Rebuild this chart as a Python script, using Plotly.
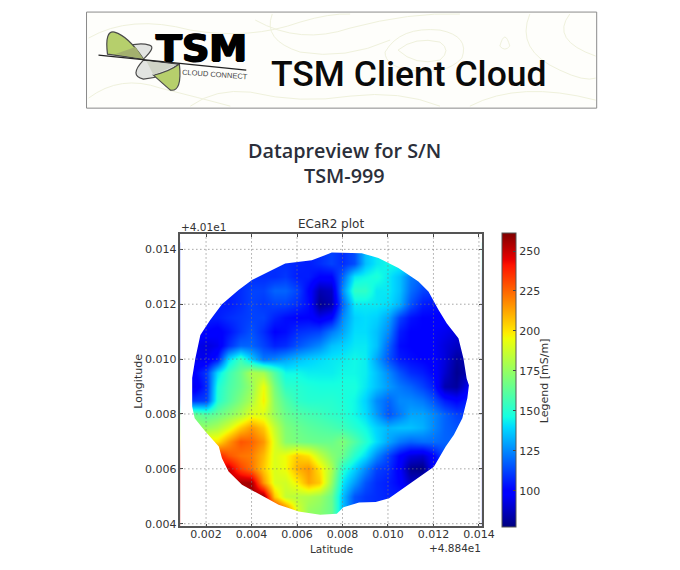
import plotly.graph_objects as go

# the browser window is 680x570 and the page body keeps its 8px margin
W, H = 664, 554
OFF = 8

# grid of the map, offsets from +48.84 / +40.1
lons = [0.0010, 0.0015, 0.0020, 0.0025, 0.0030, 0.0035, 0.0040, 0.0045, 0.0050, 0.0055, 0.0060, 0.0065, 0.0070, 0.0075,
        0.0080, 0.0085, 0.0090, 0.0095, 0.0100, 0.0105, 0.0110, 0.0115, 0.0120, 0.0125, 0.0130, 0.0135, 0.0140]
lats = [0.0040, 0.0045, 0.0050, 0.0055, 0.0060, 0.0065, 0.0070, 0.0075, 0.0080, 0.0085, 0.0090,
        0.0095, 0.0100, 0.0105, 0.0110, 0.0115, 0.0120, 0.0125, 0.0130, 0.0135, 0.0140]

# ECa readings in mS/m, south to north
ecar = [
    [245, 245, 245, 245, 245, 245, 245, 245, 245, 225, 190, 175, 172, 165, 135, 115, 110, 108, 106, 105, 105, 105, 105, 105, 105, 105, 105],
    [245, 245, 245, 245, 245, 245, 245, 245, 245, 225, 190, 175, 172, 165, 135, 115, 110, 108, 106, 105, 105, 105, 105, 105, 105, 105, 105],
    [250, 250, 250, 250, 250, 250, 258, 258, 205, 185, 182, 180, 176, 165, 135, 115, 110, 108, 106, 105, 105, 105, 105, 105, 105, 105, 105],
    [245, 245, 245, 245, 250, 255, 255, 215, 190, 188, 198, 212, 205, 175, 142, 128, 115, 108, 105, 100, 88, 90, 100, 100, 100, 100, 100],
    [245, 245, 245, 245, 250, 232, 222, 205, 190, 195, 210, 215, 200, 180, 150, 138, 125, 112, 108, 98, 80, 78, 100, 100, 100, 100, 100],
    [240, 240, 240, 240, 228, 222, 220, 208, 190, 195, 205, 200, 185, 172, 165, 150, 140, 125, 112, 100, 92, 90, 100, 115, 115, 115, 115],
    [200, 200, 200, 200, 215, 228, 225, 215, 190, 172, 168, 166, 165, 165, 170, 160, 150, 140, 130, 122, 118, 120, 120, 118, 118, 118, 118],
    [175, 175, 175, 180, 190, 205, 215, 205, 185, 170, 165, 162, 160, 158, 155, 150, 145, 138, 133, 135, 135, 132, 125, 118, 115, 115, 115],
    [165, 165, 160, 165, 172, 180, 192, 190, 175, 165, 160, 157, 155, 152, 150, 145, 140, 128, 115, 122, 130, 130, 125, 118, 112, 110, 110],
    [110, 110, 112, 150, 160, 170, 180, 198, 172, 160, 152, 150, 150, 150, 148, 145, 138, 125, 118, 125, 125, 122, 115, 105, 100, 105, 105],
    [95, 95, 108, 148, 158, 165, 175, 195, 168, 152, 150, 148, 147, 147, 147, 147, 142, 135, 128, 122, 118, 112, 105, 85, 82, 95, 95],
    [100, 100, 110, 140, 155, 165, 180, 178, 160, 145, 145, 143, 143, 143, 145, 145, 143, 135, 125, 115, 108, 105, 100, 90, 80, 85, 85],
    [95, 95, 95, 105, 140, 155, 138, 122, 125, 130, 135, 138, 140, 142, 143, 145, 143, 130, 115, 105, 102, 100, 98, 92, 82, 85, 85],
    [95, 95, 92, 95, 108, 118, 118, 112, 106, 108, 115, 120, 125, 135, 138, 142, 142, 135, 118, 102, 100, 98, 97, 92, 88, 88, 88],
    [100, 100, 100, 98, 103, 110, 115, 108, 100, 102, 108, 110, 112, 122, 130, 140, 140, 135, 125, 105, 100, 100, 97, 95, 92, 92, 92],
    [105, 105, 105, 105, 108, 110, 112, 112, 106, 102, 100, 100, 95, 100, 125, 138, 140, 138, 130, 112, 103, 100, 100, 98, 98, 98, 98],
    [105, 105, 105, 105, 105, 108, 112, 110, 112, 112, 108, 102, 80, 85, 118, 142, 142, 142, 140, 132, 115, 105, 103, 103, 103, 103, 103],
    [105, 105, 105, 105, 105, 108, 112, 112, 118, 118, 112, 100, 85, 88, 125, 152, 152, 142, 142, 135, 120, 112, 110, 110, 110, 110, 110],
    [108, 108, 108, 108, 108, 108, 108, 108, 108, 110, 105, 105, 100, 100, 118, 142, 145, 148, 142, 135, 122, 118, 115, 115, 115, 115, 115],
    [108, 108, 108, 108, 108, 108, 108, 108, 108, 108, 106, 105, 108, 112, 108, 114, 135, 142, 145, 145, 145, 145, 145, 145, 145, 145, 145],
    [108, 108, 108, 108, 108, 108, 108, 108, 108, 108, 106, 105, 108, 112, 108, 114, 135, 142, 145, 145, 145, 145, 145, 145, 145, 145, 145],
]

# edge of the surveyed field, counter-clockwise from the top
edge_lon = [0.00753, 0.00665, 0.00548, 0.00475, 0.00402, 0.00343, 0.00270, 0.00219, 0.00175, 0.00153, 0.00139, 0.00139,
            0.00150, 0.00197, 0.00256, 0.00270, 0.00299, 0.00358, 0.00439, 0.00519, 0.00607, 0.00702, 0.00775, 0.00804,
            0.00873, 0.00946, 0.01005, 0.01078, 0.01151, 0.01202, 0.01254, 0.01290, 0.01327, 0.01349, 0.01356, 0.01346,
            0.01332, 0.01310, 0.01259, 0.01222, 0.01178, 0.01134, 0.01046, 0.00958, 0.00885]
edge_lat = [0.01388, 0.01360, 0.01348, 0.01318, 0.01288, 0.01252, 0.01200, 0.01143, 0.01088, 0.01003, 0.00931, 0.00827,
            0.00784, 0.00736, 0.00681, 0.00639, 0.00590, 0.00542, 0.00505, 0.00469, 0.00445, 0.00433, 0.00436, 0.00460,
            0.00477, 0.00479, 0.00493, 0.00536, 0.00578, 0.00608, 0.00681, 0.00724, 0.00784, 0.00857, 0.00905, 0.00929,
            0.01002, 0.01076, 0.01130, 0.01180, 0.01246, 0.01283, 0.01332, 0.01368, 0.01386]

x_ticks = [0.002, 0.004, 0.006, 0.008, 0.010, 0.012, 0.014]
y_ticks = [0.004, 0.006, 0.008, 0.010, 0.012, 0.014]
cbar_ticks = [100, 125, 150, 175, 200, 225, 250]

x_range = [0.00087, 0.01413]
y_range = [0.0039, 0.01455]

jet = [[0, "#00007f"], [0.11, "#0000ff"], [0.125, "#0000ff"], [0.34, "#00dbff"], [0.375, "#14ffe2"],
       [0.64, "#eeff08"], [0.66, "#ffec00"], [0.89, "#ff1300"], [0.91, "#e80000"], [1, "#7f0000"]]

TXT = "#333333"


# window pixels to paper fractions, factors found by comparing renders
def fx(x):
    return ((x + 0.5) / 0.982 - OFF) / W


def fy(y):
    return 1 - (y / 0.992 - OFF) / H


def path(*pts):
    # pts are svg commands in window pixels, e.g. ("M", 10, 20) or ("Q", 1, 2, 3, 4)
    out = ""
    for p in pts:
        out += p[0]
        coords = p[1:]
        bits = []
        for i in range(0, len(coords), 2):
            bits.append("%.5f,%.5f" % (fx(coords[i]), fy(coords[i + 1])))
        out += " ".join(bits) + " "
    return out.strip()


fig = go.Figure()
fig.add_trace(go.Heatmap(
    x=lons, y=lats, z=ecar,
    zmin=77, zmax=261, zsmooth="best",
    colorscale=jet,
    hoverinfo="skip",
    colorbar=dict(
        x=fx(502), xanchor="left", xpad=0, ypad=0,
        y=fy(527), yanchor="bottom",
        len=fy(233) - fy(527), lenmode="fraction",
        thickness=14, thicknessmode="pixels",
        tickmode="array", tickvals=cbar_ticks,
        ticks="inside", ticklen=3, tickcolor="#444",
        tickfont=dict(family="DejaVu Sans", size=11, color=TXT),
        outlinecolor="#555", outlinewidth=1,
    ),
))

# white out everything outside the field, outer box wound against the edge and past the axes
box_x = [0.0, 0.015]
box_y = [0.003, 0.015]
mask_x = edge_lon + [edge_lon[0], box_x[0], box_x[1], box_x[1], box_x[0], box_x[0], edge_lon[0]]
mask_y = edge_lat + [edge_lat[0], box_y[1], box_y[1], box_y[0], box_y[0], box_y[1], edge_lat[0]]
fig.add_trace(go.Scatter(x=mask_x, y=mask_y, mode="lines", fill="toself", fillcolor="white",
                         line=dict(width=0), hoverinfo="skip", showlegend=False))

shapes = []

# banner
shapes.append(dict(type="rect", xref="paper", yref="paper", x0=fx(86), x1=fx(597), y0=fy(108), y1=fy(12),
                   fillcolor="#fefefb", line=dict(color="#8a8a8a", width=1), layer="below"))
contour = "#eff1dc"
for c in [
    path(("M", 88, 38), ("Q", 130, 14, 190, 30), ("Q", 250, 40, 300, 22), ("Q", 330, 13, 350, 14)),
    path(("M", 255, 20), ("Q", 300, 45, 350, 28), ("Q", 410, 12, 460, 14)),
    path(("M", 272, 14), ("Q", 262, 40, 300, 52), ("Q", 345, 60, 390, 40)),
    path(("M", 385, 52), ("Q", 400, 26, 440, 30), ("Q", 470, 36, 462, 58), ("Q", 445, 76, 410, 70), ("Q", 385, 66, 385, 52)),
    path(("M", 398, 50), ("Q", 415, 36, 440, 42), ("Q", 452, 50, 440, 60), ("Q", 415, 66, 398, 50)),
    path(("M", 500, 46), ("Q", 505, 28, 510, 46), ("Q", 505, 52, 500, 46)),
    path(("M", 530, 14), ("Q", 515, 50, 560, 70), ("Q", 585, 82, 596, 78)),
    path(("M", 570, 14), ("Q", 550, 40, 596, 56)),
    path(("M", 88, 98), ("Q", 120, 74, 160, 88), ("Q", 200, 98, 230, 106)),
    path(("M", 190, 106), ("Q", 215, 88, 250, 92), ("Q", 300, 104, 350, 96), ("Q", 400, 90, 440, 106)),
    path(("M", 470, 106), ("Q", 520, 80, 596, 100)),
]:
    shapes.append(dict(type="path", xref="paper", yref="paper", path=c, line=dict(color=contour, width=1), layer="below"))

# logo
green = "#b6cf6c"
grey = "#e2e4e1"
overlap = "#a3b06e"
overlap2 = "#cfd3c6"
edge = dict(color="#4a4a4a", width=1.2)
no_edge = dict(width=0)
for d, f, ln in [
    (path(("M", 143, 59), ("Q", 156, 47, 149, 45), ("Q", 138, 42, 125, 47), ("Q", 136, 50, 143, 59), ("Z",)), grey, edge),
    (path(("M", 107, 54), ("Q", 104, 30, 114, 32), ("Q", 128, 36, 143, 59), ("Z",)), green, edge),
    (path(("M", 115, 54), ("L", 135, 47), ("L", 143, 59), ("Z",)), overlap, no_edge),
    (path(("M", 143, 60), ("Q", 128, 76, 143, 79), ("Q", 163, 78, 178, 64), ("Z",)), grey, edge),
    (path(("M", 153, 75), ("Q", 163, 84, 170, 90), ("Q", 182, 92, 179, 64), ("Q", 168, 72, 153, 75), ("Z",)), green, edge),
    (path(("M", 146, 61), ("L", 153, 75), ("L", 176, 65), ("Z",)), overlap2, no_edge),
]:
    shapes.append(dict(type="path", xref="paper", yref="paper", path=d, fillcolor=f, line=ln, layer="below"))
shapes.append(dict(type="line", xref="paper", yref="paper", x0=fx(98), y0=fy(55), x1=fx(246), y1=fy(70),
                   line=dict(color="#222", width=1.3)))

# dotted grid sits above the map
for v in x_ticks:
    shapes.append(dict(type="line", xref="x", yref="paper", x0=v, x1=v, y0=fy(526), y1=fy(234),
                       line=dict(color="#777", width=1, dash="1px,3px")))
for v in y_ticks:
    shapes.append(dict(type="line", xref="paper", yref="y", x0=fx(180), x1=fx(482), y0=v, y1=v,
                       line=dict(color="#777", width=1, dash="1px,3px")))


def note(text, x, y, size, family="DejaVu Sans", color=TXT, anchor="center", angle=0, weight=None, shadow=None):
    fig.add_annotation(text=text, x=fx(x), y=fy(y), xref="paper", yref="paper", showarrow=False,
                       xanchor=anchor, yanchor="middle", textangle=angle, borderpad=0,
                       font=dict(family=family, size=size, color=color, weight=weight, shadow=shadow))


note("TSM", 201, 48, 38, color="#000000", weight=700, shadow="1px 0 0 #000, -1px 0 0 #000, 0 1px 0 #000")
note("CLOUD CONNECT", 215, 74, 7.5, family="Liberation Sans", color="#444", angle=4)
note("TSM Client Cloud", 409, 74, 35.5, family="Roboto", color="#0a0a0a", weight=500)
note("Datapreview for S/N", 344, 150, 19.8, family="Open Sans", color="#2b2f3a", weight=600)
note("TSM-999", 344, 175, 19.8, family="Open Sans", color="#2b2f3a", weight=600)

note("ECaR2 plot", 331, 224, 12)
note("+4.01e1", 180, 227, 10.5, anchor="left")
note("+4.884e1", 482, 548, 10.5, anchor="right")
note("Latitude", 331, 549, 10.5)
note("Longitude", 138, 381, 11, angle=-90)
note("Legend [mS/m]", 545, 380, 11, angle=-90)

axis = dict(showgrid=False, zeroline=False, showline=True, mirror="ticks", linecolor="#555", linewidth=1.5,
            ticks="inside", ticklen=3, tickcolor="#444", tickmode="array",
            tickfont=dict(family="DejaVu Sans", size=11, color=TXT))

fig.update_layout(
    width=W, height=H, autosize=False,
    margin=dict(l=0, r=0, t=0, b=0),
    paper_bgcolor="white", plot_bgcolor="white",
    showlegend=False,
    shapes=shapes,
    xaxis=dict(axis, domain=[fx(180), fx(482)], range=x_range, tickvals=x_ticks,
               ticktext=["%.3f" % v for v in x_ticks], ticklabelstandoff=-3),
    yaxis=dict(axis, domain=[fy(526), fy(234)], range=y_range, tickvals=y_ticks,
               ticktext=["%.3f" % v for v in y_ticks]),
)

fig.write_html("out.html")
